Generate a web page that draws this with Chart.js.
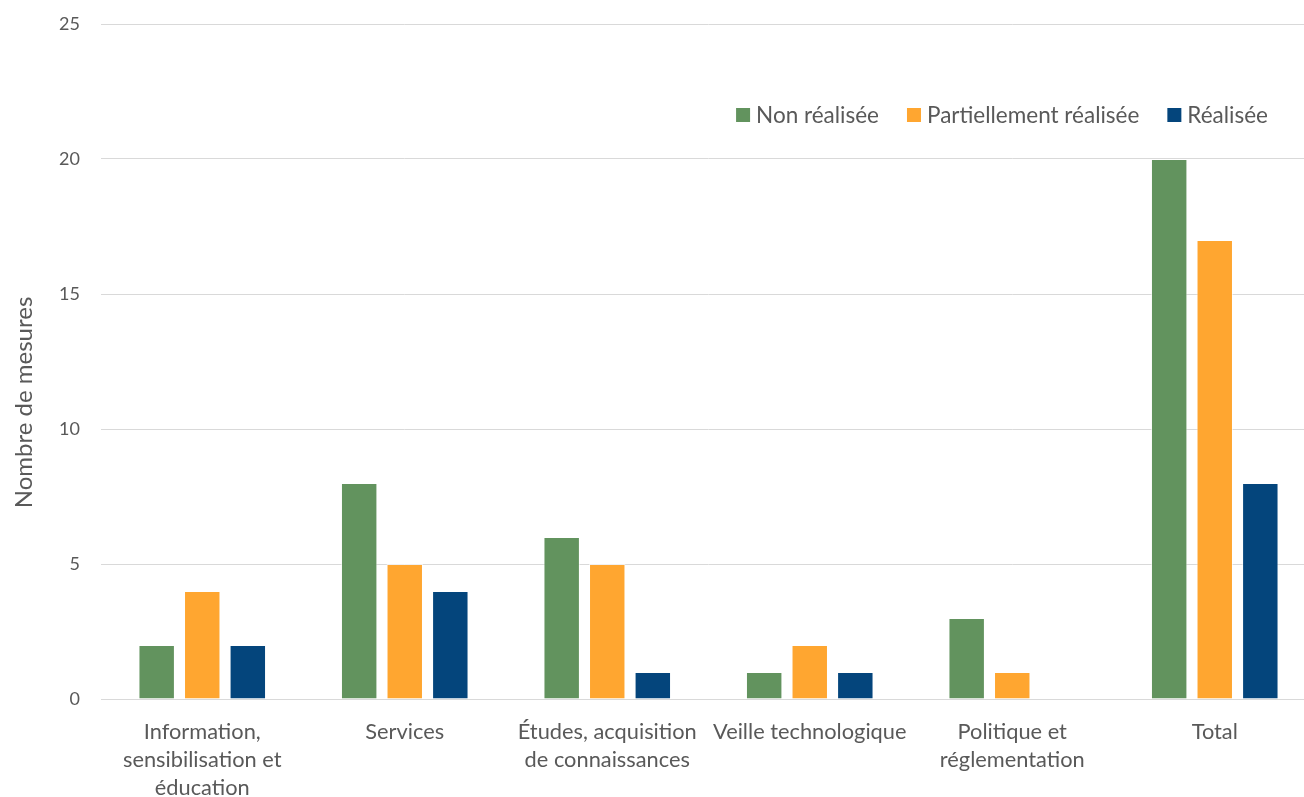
<!DOCTYPE html>
<html>
<head>
<meta charset="utf-8">
<script src="https://cdn.jsdelivr.net/npm/chart.js@4"></script>
<style>
  html, body { margin: 0; padding: 0; background: #fff; overflow: hidden; }
  /* plot runs slightly past the right edge, as in the source picture */
  #wrap { width: 1316px; height: 797px; }
</style>
</head>
<body>
<div id="wrap"><canvas id="chart"></canvas></div>
<script>
// ==================================================
// DATA
// ==================================================
const categories = [
  ["Information,", "sensibilisation et", "éducation"],
  "Services",
  ["Études, acquisition", "de connaissances"],
  "Veille technologique",
  ["Politique et", "réglementation"],
  "Total",
];
const nonRealisee = [2, 8, 6, 1, 3, 20];
const partiellement = [4, 5, 5, 2, 1, 17];
const realisee = [2, 4, 1, 1, 0, 8];
const yTicks = [0, 5, 10, 15, 20, 25];
const yTitle = "Nombre de mesures";

const textColor = "#595959";
const fontFamily = "Lato, 'Open Sans', sans-serif";

// ==================================================
// PLUGINS: legend inside plot area + y title centred on the page
// ==================================================
const insideLegend = {
  id: "insideLegend",
  afterDraw(chart) {
    const ctx = chart.ctx;
    ctx.save();
    ctx.font = "22.5px " + fontFamily;
    ctx.textBaseline = "middle";
    const box = 14;
    const gapText = 6;
    const gapItem = 28;
    const items = chart.data.datasets.map((ds) => ({
      label: ds.label,
      color: ds.backgroundColor,
      w: box + gapText + ctx.measureText(ds.label).width,
    }));
    const total = items.reduce((s, it) => s + it.w, 0) + gapItem * (items.length - 1);
    let x = 1268 - total;
    const y = 115;
    items.forEach((it) => {
      ctx.fillStyle = it.color;
      ctx.fillRect(x, y - box / 2, box, box);
      ctx.fillStyle = textColor;
      ctx.fillText(it.label, x + box + gapText, y + 1);
      x += it.w + gapItem;
    });
    ctx.restore();
  },
};

const sideTitle = {
  id: "sideTitle",
  afterDraw(chart) {
    const ctx = chart.ctx;
    ctx.save();
    ctx.translate(24, chart.height / 2 + 4);
    ctx.rotate(-Math.PI / 2);
    ctx.font = "24px " + fontFamily;
    ctx.fillStyle = textColor;
    ctx.textAlign = "center";
    ctx.textBaseline = "middle";
    ctx.fillText(yTitle, 0, 0);
    ctx.restore();
  },
};

const ctx = document.getElementById("chart").getContext("2d");
new Chart(ctx, {
  type: "bar",
  data: {
    labels: categories,
    datasets: [
      { label: "Non réalisée", data: nonRealisee, backgroundColor: "#62935e" },
      { label: "Partiellement réalisée", data: partiellement, backgroundColor: "#ffa630" },
      { label: "Réalisée", data: realisee, backgroundColor: "#04457c" },
    ].map((ds) => ({
      ...ds,
      borderColor: "rgba(255,255,255,0.6)",
      borderWidth: 1,
      categoryPercentage: 0.675,
      barPercentage: 0.8,
    })),
  },
  options: {
    responsive: true,
    maintainAspectRatio: false,
    animation: false,
    layout: { padding: { top: 24, right: 0, left: 0, bottom: 0 } },
    plugins: {
      legend: { display: false },
      tooltip: { enabled: false },
    },
    scales: {
      x: {
        grid: { display: false },
        border: { color: "#d9d9d9", width: 1 },
        ticks: {
          color: textColor,
          font: { family: fontFamily, size: 21.8, lineHeight: 1.28 },
          padding: 11,
          maxRotation: 0,
          autoSkip: false,
        },
        afterFit(scale) {
          scale.height = 98;
        },
      },
      y: {
        min: 0,
        max: 25,
        afterBuildTicks(scale) {
          scale.ticks = yTicks.map((v) => ({ value: v }));
        },
        grid: { color: "#d9d9d9", lineWidth: 1, drawTicks: false },
        border: { display: false },
        ticks: {
          color: textColor,
          font: { family: fontFamily, size: 18 },
          padding: 21,
        },
        afterFit(scale) {
          scale.width = 101;
          scale.paddingTop = 0;
        },
      },
    },
  },
  plugins: [insideLegend, sideTitle],
});
</script>
</body>
</html>
